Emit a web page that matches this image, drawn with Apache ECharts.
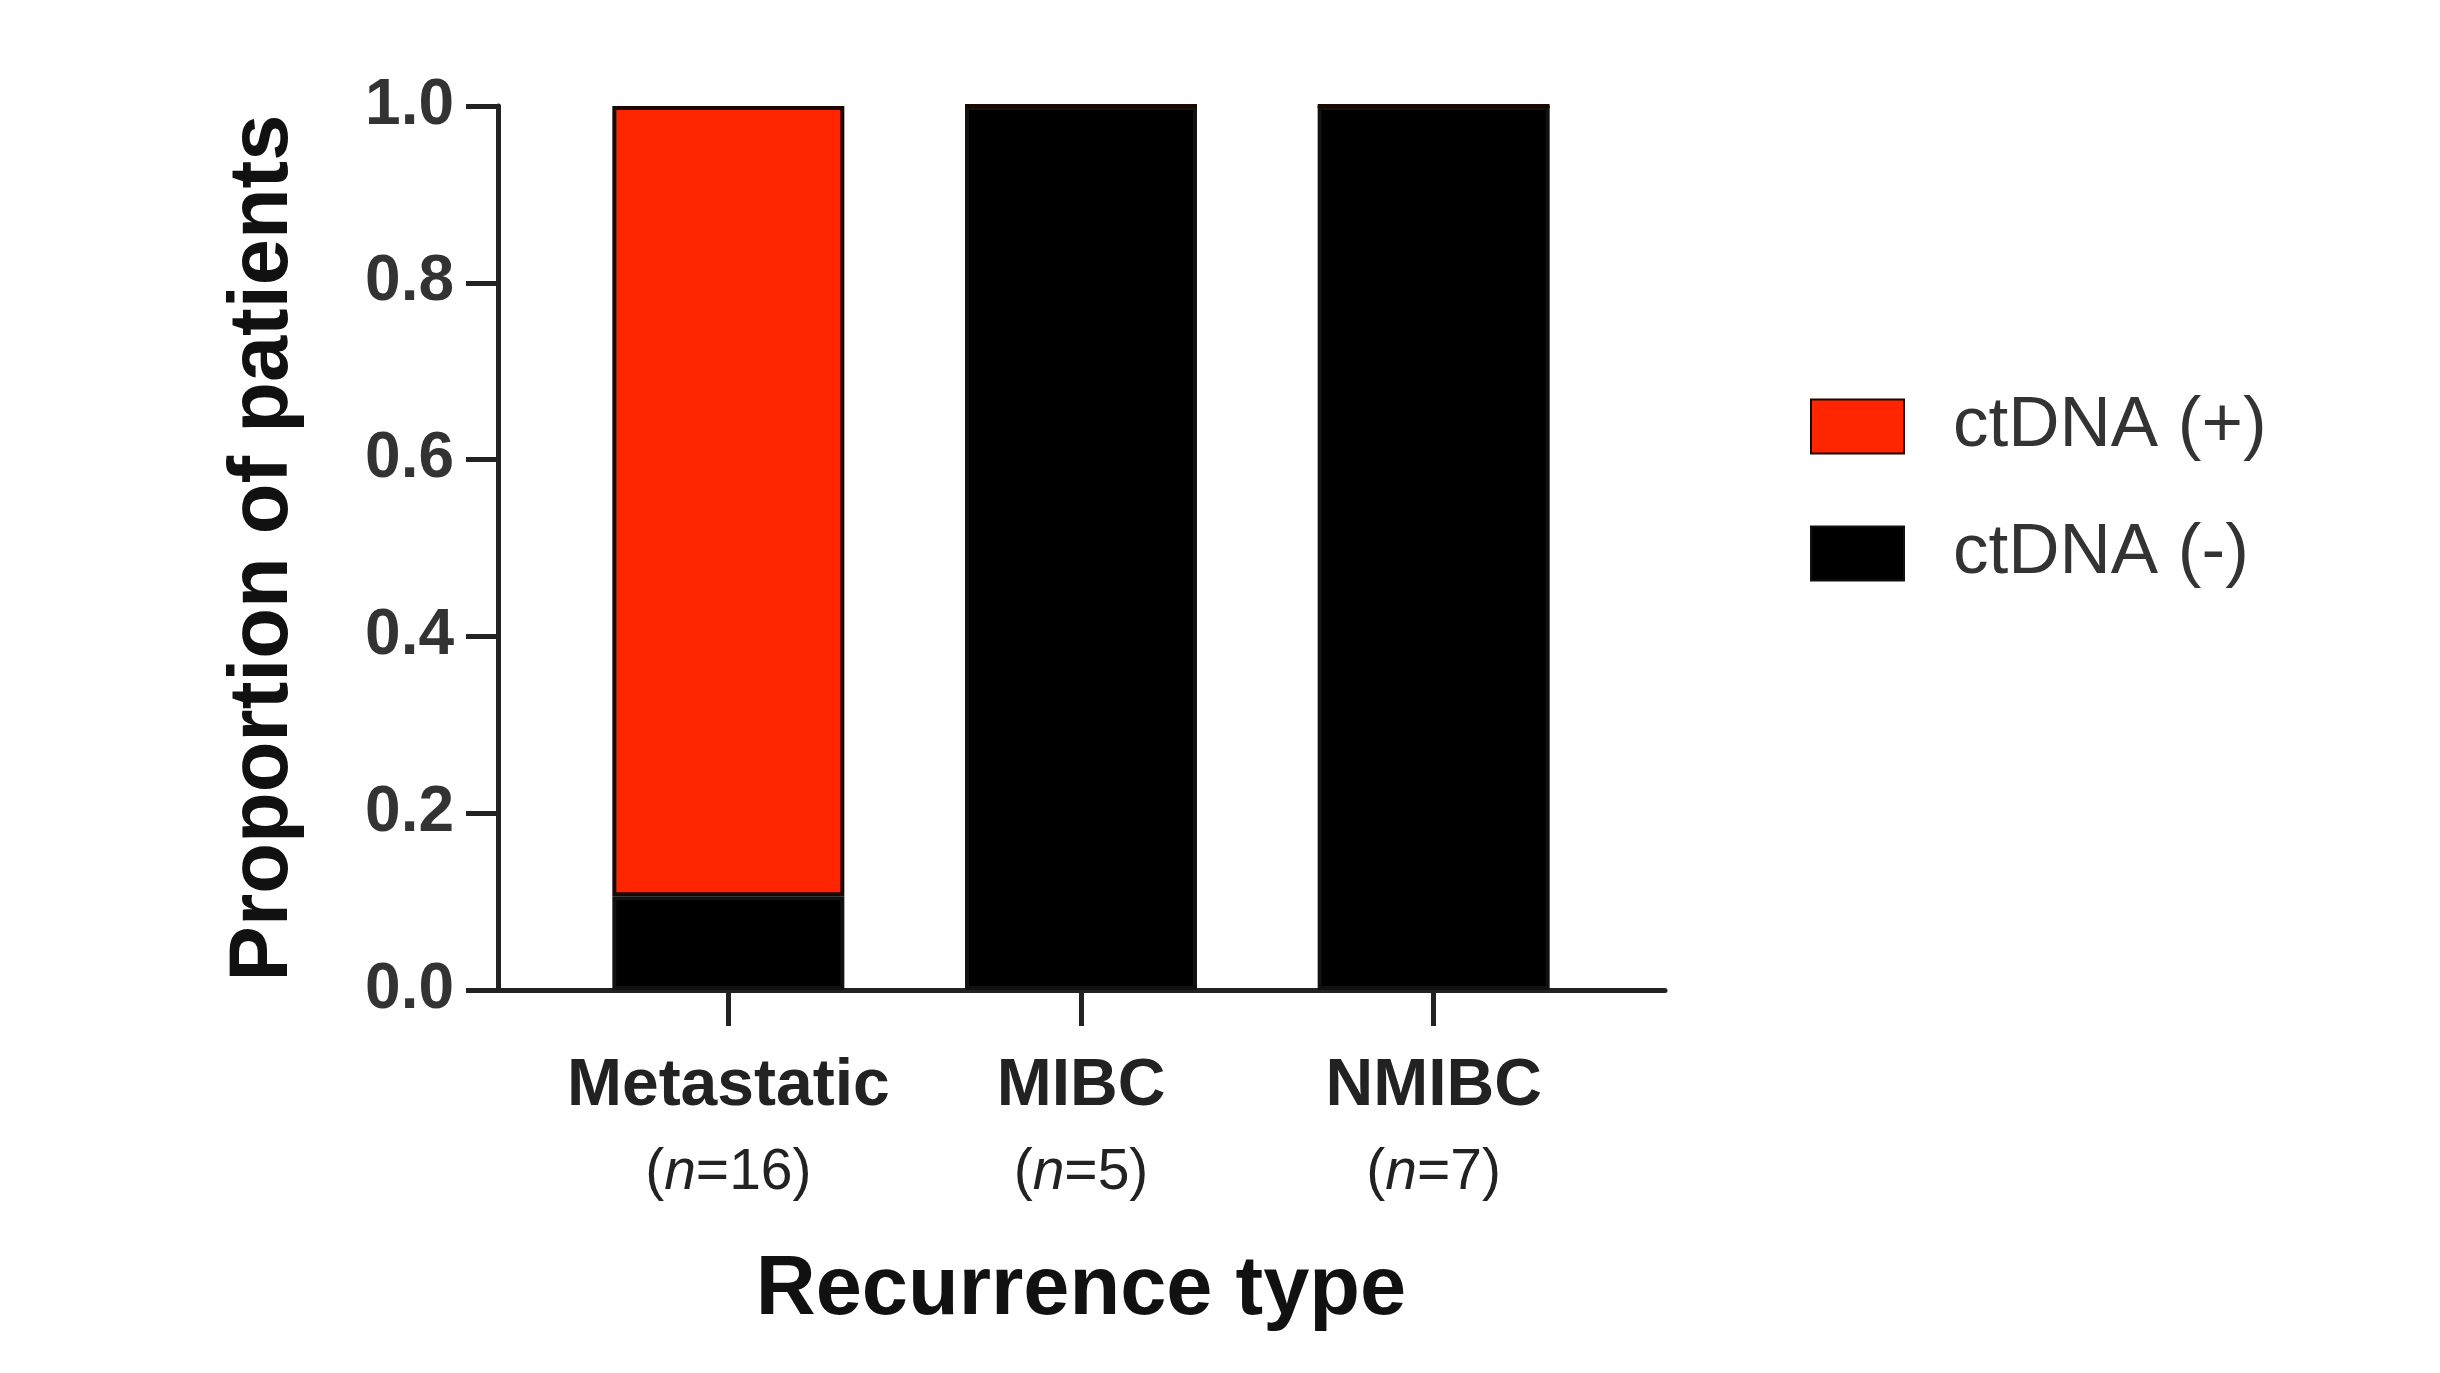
<!DOCTYPE html>
<html>
<head>
<meta charset="utf-8">
<script src="https://cdn.jsdelivr.net/npm/echarts@6/dist/echarts.min.js"></script>
<style>
  html, body { margin: 0; padding: 0; background: #fff; }
  #chart { width: 2440px; height: 1373px; }
</style>
</head>
<body>
<div id="chart"></div>
<script>
// recurrence types and group sizes
const categories = ['Metastatic', 'MIBC', 'NMIBC']
const groupSizes = [16, 5, 7]
// proportion of patients per group
const ctdnaPos = [0.894, 0, 0]
const ctdnaNeg = [0.106, 1, 1]

const FONT = 'Liberation Sans, Arial, sans-serif'
const AXIS = '#222'

const chart = echarts.init(document.getElementById('chart'))

const option = {
  backgroundColor: '#fff',
  animation: false,
  grid: [
    // bars: inset from the axis lines like GraphPad does
    { left: 552, right: 830, top: 106, bottom: 383 },
    // frame: carries the full-length axis lines
    { left: 498, right: 775, top: 106, bottom: 383 }
  ],
  legend: {
    orient: 'vertical',
    left: 1805,
    top: 386,
    icon: 'rect',
    itemWidth: 93,
    itemHeight: 54,
    itemGap: 56,
    data: ['ctDNA (+)', 'ctDNA (-)'],
    textStyle: {
      fontFamily: FONT,
      fontSize: 71,
      color: '#333',
      padding: [0, 0, 0, 44]
    }
  },
  xAxis: [
    {
      type: 'category',
      gridIndex: 0,
      data: categories,
      axisLine: { show: false },
      axisTick: {
        show: true,
        alignWithLabel: true,
        length: 36,
        lineStyle: { color: AXIS, width: 5 }
      },
      axisLabel: {
        margin: 54,
        interval: 0,
        formatter: function (val, idx) {
          return '{b|' + val + '}\n{p|(}{i|n}{p|=' + groupSizes[idx] + ')}'
        },
        rich: {
          b: { fontFamily: FONT, fontWeight: 'bold', fontSize: 66, color: AXIS, lineHeight: 86 },
          p: { fontFamily: FONT, fontSize: 57, color: AXIS, lineHeight: 86 },
          i: { fontFamily: FONT, fontSize: 57, fontStyle: 'italic', color: AXIS, lineHeight: 86 }
        }
      },
      name: 'Recurrence type',
      nameLocation: 'middle',
      nameGap: 260,
      nameTextStyle: { fontFamily: FONT, fontWeight: 'bold', fontSize: 83, color: '#111' }
    },
    {
      type: 'value',
      gridIndex: 1,
      min: 0,
      max: 1,
      axisLine: { show: true, lineStyle: { color: AXIS, width: 5 } },
      axisTick: { show: false },
      axisLabel: { show: false },
      splitLine: { show: false }
    }
  ],
  yAxis: [
    {
      type: 'value',
      gridIndex: 0,
      min: 0,
      max: 1,
      show: false
    },
    {
      type: 'value',
      gridIndex: 1,
      min: 0,
      max: 1,
      interval: 0.2,
      axisLine: { show: true, lineStyle: { color: AXIS, width: 5 } },
      axisTick: { show: true, length: 32, lineStyle: { color: AXIS, width: 5 } },
      axisLabel: {
        margin: 44,
        fontFamily: FONT,
        fontWeight: 'bold',
        fontSize: 64,
        color: '#333',
        formatter: v => v.toFixed(1)
      },
      splitLine: { show: false },
      name: 'Proportion of patients',
      nameLocation: 'middle',
      nameGap: 192,
      nameTextStyle: { fontFamily: FONT, fontWeight: 'bold', fontSize: 83, color: '#111' }
    }
  ],
  series: [
    {
      name: 'ctDNA (-)',
      type: 'bar',
      xAxisIndex: 0,
      yAxisIndex: 0,
      stack: 'total',
      barWidth: 232,
      data: ctdnaNeg,
      itemStyle: { color: '#000', borderColor: '#111', borderWidth: 4 }
    },
    {
      name: 'ctDNA (+)',
      type: 'bar',
      xAxisIndex: 0,
      yAxisIndex: 0,
      stack: 'total',
      barWidth: 232,
      data: ctdnaPos,
      itemStyle: { color: '#fe2500', borderColor: '#1a0800', borderWidth: 4 }
    }
  ]
}

chart.setOption(option)
</script>
</body>
</html>
